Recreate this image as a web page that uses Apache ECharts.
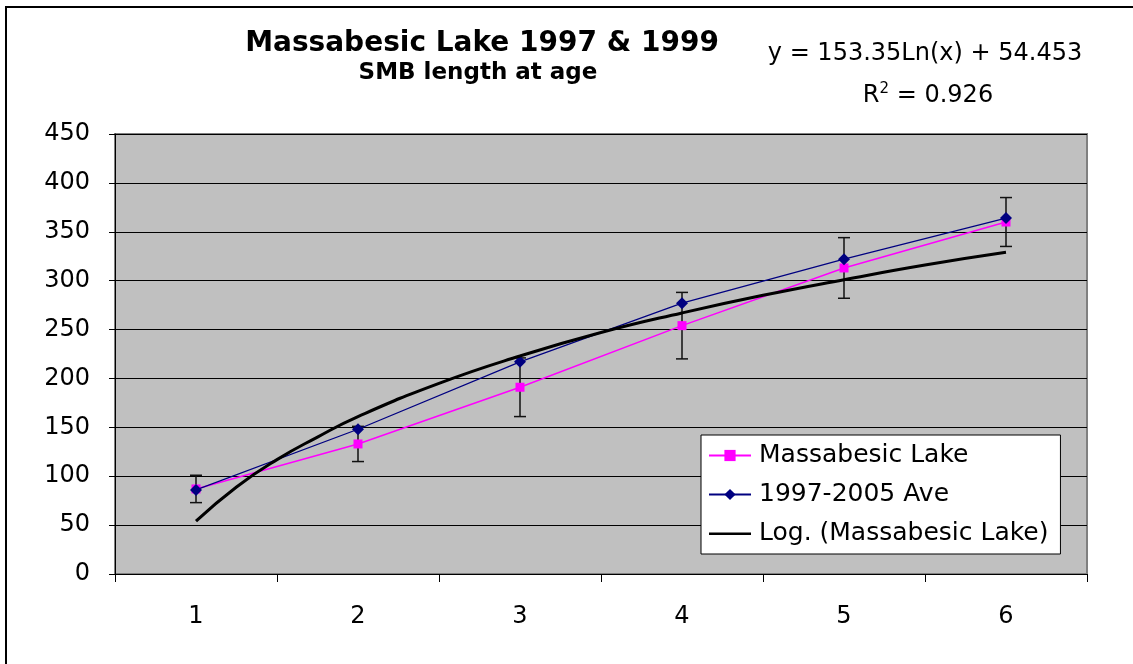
<!DOCTYPE html>
<html>
<head>
<meta charset="utf-8">
<script src="https://cdn.jsdelivr.net/npm/echarts@6/dist/echarts.min.js"></script>
<style>
html,body{margin:0;padding:0;background:#fff;}
#chart{width:1133px;height:664px;}
</style>
</head>
<body>
<div id="chart"></div>
<script>
// ---- data ----
var ages = ['1', '2', '3', '4', '5', '6'];
var massabesic = [87, 133, 191, 254, 313, 360];
var average9705 = [86, 148, 217, 277, 322, 364];
var massabesicErr = [14, 18, 30, 34, 31, 25];
// logarithmic trendline: [age, length]
var trendX = [1, 1.25, 1.5, 1.75, 2, 2.5, 3, 3.5, 4, 4.5, 5, 5.5, 6];
var trendY = [54, 89, 117, 140, 161, 195, 223, 247, 267, 285, 301, 316, 329];
var yTicks = [0, 50, 100, 150, 200, 250, 300, 350, 400, 450];

var FONT = '"DejaVu Sans", sans-serif';

var trendData = trendX.map(function (x, i) { return [x, trendY[i]]; });
var errData = massabesic.map(function (v, i) { return [i, v - massabesicErr[i], v + massabesicErr[i]]; });

var chart = echarts.init(document.getElementById('chart'));
chart.setOption({
  animation: false,
  backgroundColor: '#ffffff',
  textStyle: { fontFamily: FONT },
  title: [
    { text: 'Massabesic Lake 1997 & 1999', left: 477, top: 25, textAlign: 'center',
      textStyle: { fontFamily: FONT, fontSize: 28, fontWeight: 'bold', color: '#000' } },
    { text: 'SMB length at age', left: 473, top: 57, textAlign: 'center',
      textStyle: { fontFamily: FONT, fontSize: 23, fontWeight: 'bold', color: '#000' } },
    { text: 'y = 153.35Ln(x) + 54.453', left: 920, top: 37, textAlign: 'center',
      textStyle: { fontFamily: FONT, fontSize: 24, fontWeight: 'normal', color: '#000' } },
    { text: 'R{sup|2} = 0.926', left: 923, top: 77, textAlign: 'center',
      textStyle: { fontFamily: FONT, fontSize: 24, fontWeight: 'normal', color: '#000',
        rich: { sup: { fontFamily: FONT, fontSize: 15, color: '#000', padding: [0, 0, 12, 0] } } } }
  ],
  graphic: [
    { type: 'rect', shape: { x: 6, y: 7, width: 1150, height: 700 },
      style: { fill: null, stroke: '#000', lineWidth: 2 }, silent: true, z: 100 }
  ],
  grid: {
    left: 115, right: 46, top: 134, bottom: 90,
    show: true, backgroundColor: '#C0C0C0', borderColor: '#808080', borderWidth: 2
  },
  legend: {
    orient: 'vertical',
    left: 701, top: 435,
    padding: [8, 12, 8, 7],
    backgroundColor: '#ffffff',
    borderColor: '#000', borderWidth: 1,
    itemWidth: 42, itemHeight: 14,
    itemGap: 14,
    textStyle: { fontFamily: FONT, fontSize: 25, color: '#000', padding: [0, 0, 0, 3] },
    data: [
      'Massabesic Lake',
      '1997-2005 Ave',
      { name: 'Log. (Massabesic Lake)', icon: 'path://M0,0 L0,0 M0,14 L0,14 M0,6 L42,6 L42,8.6 L0,8.6 Z' }
    ]
  },
  xAxis: [
    {
      type: 'category', data: ages, boundaryGap: true,
      axisLine: { lineStyle: { color: '#000', width: 1 } },
      axisTick: { show: true, length: 8, interval: 0, lineStyle: { color: '#000' } },
      axisLabel: { fontFamily: FONT, fontSize: 24, color: '#000', margin: 31 },
      splitLine: { show: false }
    },
    { type: 'value', min: 0.5, max: 6.5, show: false }
  ],
  yAxis: {
    type: 'value', min: 0, max: 450, interval: 50,
    axisLine: { show: true, lineStyle: { color: '#000', width: 1 } },
    axisTick: { show: true, length: 6, lineStyle: { color: '#000' } },
    axisLabel: { fontFamily: FONT, fontSize: 24, color: '#000', margin: 25 },
    splitLine: { show: true, lineStyle: { color: '#000', width: 1 } }
  },
  series: [
    {
      name: 'Massabesic Lake', type: 'line', data: massabesic,
      symbol: 'rect', symbolSize: 9,
      itemStyle: { color: '#FF00FF' },
      lineStyle: { color: '#FF00FF', width: 1.5 },
      z: 3
    },
    {
      name: 'error', type: 'custom', data: errData,
      renderItem: function (params, api) {
        var x = api.coord([api.value(0), api.value(1)])[0];
        var yLow = api.coord([api.value(0), api.value(1)])[1];
        var yHigh = api.coord([api.value(0), api.value(2)])[1];
        var st = { stroke: '#111', lineWidth: 1.5 };
        return { type: 'group', children: [
          { type: 'line', shape: { x1: x, y1: yLow, x2: x, y2: yHigh }, style: st },
          { type: 'line', shape: { x1: x - 6, y1: yLow, x2: x + 6, y2: yLow }, style: st },
          { type: 'line', shape: { x1: x - 6, y1: yHigh, x2: x + 6, y2: yHigh }, style: st }
        ] };
      },
      z: 2
    },
    {
      name: '1997-2005 Ave', type: 'line', data: average9705,
      symbol: 'diamond', symbolSize: 12,
      itemStyle: { color: '#000080' },
      lineStyle: { color: '#000080', width: 1.2 },
      z: 4
    },
    {
      name: 'Log. (Massabesic Lake)', type: 'line', xAxisIndex: 1, data: trendData,
      symbol: 'none', smooth: true,
      itemStyle: { color: '#000' },
      lineStyle: { color: '#000', width: 3 },
      z: 5
    }
  ]
});
</script>
</body>
</html>
